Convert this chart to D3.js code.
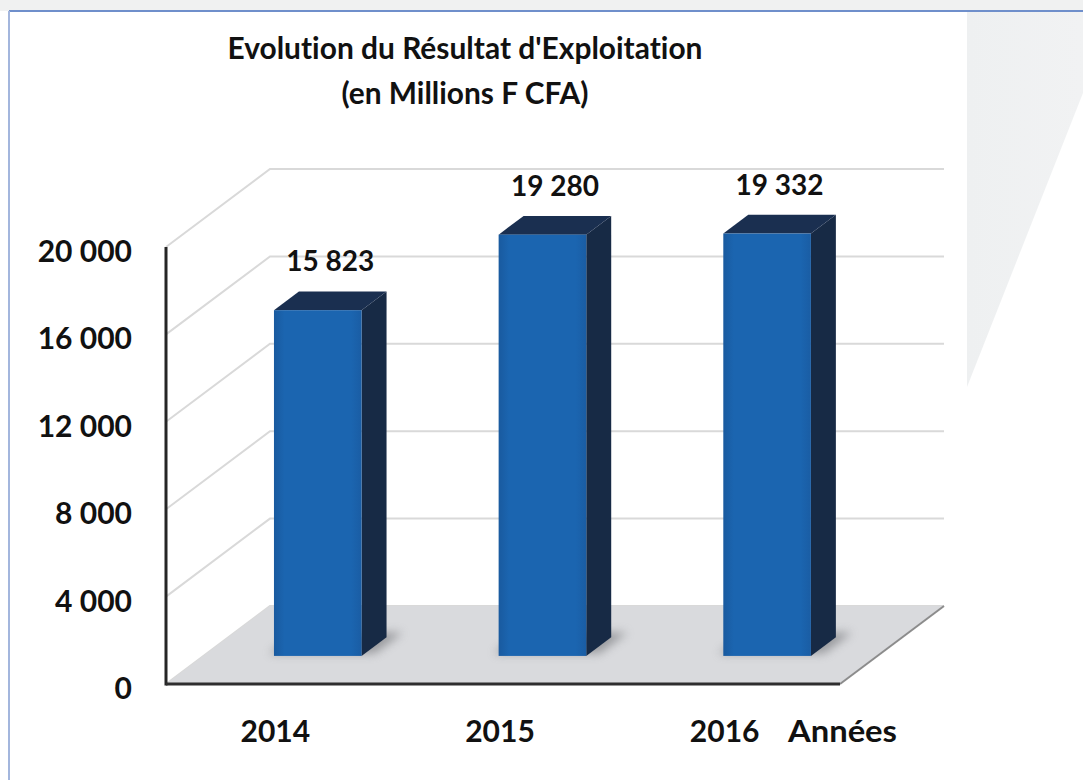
<!DOCTYPE html>
<html>
<head>
<meta charset="utf-8">
<script src="https://d3js.org/d3.v7.min.js"></script>
<style>
* { margin: 0; padding: 0; }
body { background: #fff; }
svg { display: block; font-family: Lato, 'Open Sans', sans-serif; font-weight: bold; font-variant-ligatures: none; }
</style>
</head>
<body>
<svg width="1083" height="780"></svg>
<script>
const years = ["2014", "2015", "2016"];
const values = [15823, 19280, 19332];
const yTicks = [0, 4000, 8000, 12000, 16000, 20000];
const titleLines = ["Evolution du Résultat d'Exploitation", "(en Millions F CFA)"];
const axisName = "Années";

const svg = d3.select("svg");
const fr = d3.formatLocale({decimal: ",", thousands: " ", grouping: [3], currency: ["", ""]});
const fmt = fr.format(",d");

// front plane of the 3d box, depth goes up-right
const x0 = 166, x1 = 840;
const DX = 104, DY = 78;
const x = d3.scaleBand().domain(years).range([x0, x1]);
const y = d3.scaleLinear().domain([0, 20000]).range([684, 247]);
const P = (px, v, d) => [px + d * DX, y(v) - d * DY];
const poly = pts => "M" + pts.map(p => p.join(",")).join("L") + "Z";

const defs = svg.append("defs");
defs.append("filter").attr("id", "blur").attr("x", "-50%").attr("y", "-50%").attr("width", "200%").attr("height", "200%")
  .append("feGaussianBlur").attr("stdDeviation", 5);
const gf = defs.append("linearGradient").attr("id", "front");
gf.append("stop").attr("offset", 0).attr("stop-color", "#195a9f");
gf.append("stop").attr("offset", 0.12).attr("stop-color", "#1b65b0");
gf.append("stop").attr("offset", 0.88).attr("stop-color", "#1b65b0");
gf.append("stop").attr("offset", 1).attr("stop-color", "#1a5da4");
const gr = defs.append("linearGradient").attr("id", "rightbg").attr("x1", 0).attr("x2", 1);
gr.append("stop").attr("offset", 0).attr("stop-color", "#eef0f1");
gr.append("stop").attr("offset", 1).attr("stop-color", "#f1f2f3");

// page frame
svg.append("rect").attr("width", 1083).attr("height", 11).attr("fill", "#f0f1f1");
svg.append("path").attr("d", poly([[967, 11], [1083, 11], [1083, 93], [967, 387]])).attr("fill", "url(#rightbg)");
svg.append("line").attr("x1", 9).attr("x2", 1083).attr("y1", 11).attr("y2", 11)
  .attr("stroke", "#6f8fcb").attr("stroke-width", 2);
svg.append("line").attr("x1", 9).attr("x2", 9).attr("y1", 11).attr("y2", 780)
  .attr("stroke", "#a3b6dd").attr("stroke-width", 2);

// walls: grid lines on back and left wall
const grid = svg.append("g").attr("stroke", "#d9d9d9").attr("stroke-width", 2).attr("fill", "none");
yTicks.forEach(t => {
  grid.append("path").attr("d", "M" + P(x0, t, 0) + "L" + P(x0, t, 1) + "L" + P(x1, t, 1));
});

// floor
svg.append("path").attr("d", poly([P(x0, 0, 0), P(x1, 0, 0), P(x1, 0, 1), P(x0, 0, 1)]))
  .attr("fill", "#d9dadd");
svg.append("line").attr("x1", P(x1, 0, 0)[0]).attr("y1", P(x1, 0, 0)[1])
  .attr("x2", P(x1, 0, 1)[0]).attr("y2", P(x1, 0, 1)[1])
  .attr("stroke", "#8c8c8c").attr("stroke-width", 2);

// axis lines
svg.append("line").attr("x1", x0).attr("x2", x0).attr("y1", y(20000)).attr("y2", y(0) + 1.5)
  .attr("stroke", "#262626").attr("stroke-width", 3);
svg.append("line").attr("x1", x0).attr("x2", x1).attr("y1", y(0)).attr("y2", y(0))
  .attr("stroke", "#2e2e2e").attr("stroke-width", 3);

// bars
const d0 = 0.36, d1 = 0.6;
const barW = 0.39 * x.step();
const bars = svg.append("g").selectAll("g").data(years).join("g");
bars.each(function (c, i) {
  const g = d3.select(this);
  const v = values[i];
  const cx = x(c) + x.bandwidth() / 2 + 2;
  const xl = cx - barW / 2, xr = cx + barW / 2;
  g.append("path")
    .attr("d", poly([P(xl - 8, 0, d0 + 0.03), P(xr + 10, 0, d0 + 0.03), P(xr + 10, 0, d1 + 0.06), P(xl - 8, 0, d1 + 0.06)]))
    .attr("fill", "#6f7175").attr("opacity", 0.6).attr("filter", "url(#blur)");
  g.append("path").attr("d", poly([P(xr, 0, d0), P(xr, v, d0), P(xr, v, d1), P(xr, 0, d1)]))
    .attr("fill", "#172a45");
  g.append("path").attr("d", poly([P(xl, v, d0), P(xr, v, d0), P(xr, v, d1), P(xl, v, d1)]))
    .attr("fill", "#1a2f50");
  const a = P(xl, v, d0), b = P(xr, 0, d0);
  g.append("rect").attr("x", a[0]).attr("y", a[1]).attr("width", b[0] - a[0]).attr("height", b[1] - a[1])
    .attr("fill", "url(#front)");
  g.append("text")
    .attr("x", cx + (d0 + d1) / 2 * DX)
    .attr("y", y(v) - d1 * DY - 20)
    .attr("text-anchor", "middle").attr("font-size", 28).attr("fill", "#111")
    .text(fmt(v));
});

// y tick labels
svg.append("g").selectAll("text").data(yTicks).join("text")
  .attr("x", 132).attr("y", d => y(d) + 15)
  .attr("text-anchor", "end").attr("font-size", 30).attr("fill", "#111")
  .text(d => fmt(d));

// category labels
svg.append("g").selectAll("text").data(years).join("text")
  .attr("x", d => x(d) + x.bandwidth() / 2 - 3).attr("y", 742)
  .attr("text-anchor", "middle").attr("font-size", 30).attr("fill", "#111")
  .text(d => d);
svg.append("text").attr("x", 788).attr("y", 742).attr("font-size", 31).attr("fill", "#111")
  .attr("textLength", 109).attr("lengthAdjust", "spacingAndGlyphs").text(axisName);

// title
const titleW = [475, 247];
svg.append("g").selectAll("text").data(titleLines).join("text")
  .attr("x", 465).attr("y", (d, i) => 59 + i * 45)
  .attr("text-anchor", "middle").attr("font-size", 31).attr("fill", "#111")
  .text(d => d)
  .each(function (d, i) {
    if (this.getComputedTextLength() > titleW[i]) {
      d3.select(this).attr("textLength", titleW[i]).attr("lengthAdjust", "spacingAndGlyphs");
    }
  });
</script>
</body>
</html>
